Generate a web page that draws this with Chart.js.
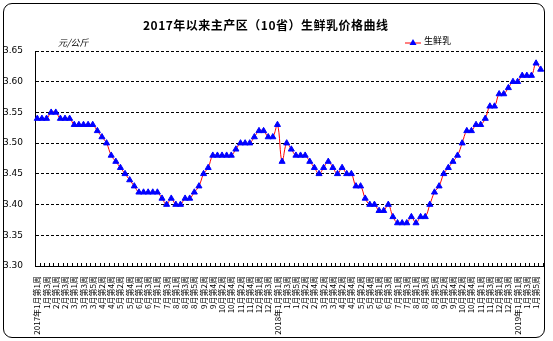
<!DOCTYPE html>
<html>
<head>
<meta charset="utf-8">
<script src="https://cdn.jsdelivr.net/npm/chart.js@4.4.0/dist/chart.umd.min.js"></script>
<style>
html, body { margin: 0; padding: 0; background: #fff; }
#wrap { position: relative; width: 553px; height: 341px; overflow: hidden; font-family: "Noto Sans CJK SC", "Noto Sans", sans-serif; }
#frame { position: absolute; left: 3px; top: 3px; width: 540px; height: 333px; border: 1px solid #000; border-radius: 9px; }
#c { position: absolute; left: 0; top: 0; }
#title { position: absolute; left: 143px; top: 17px; font-size: 12px; font-weight: bold; letter-spacing: 0.5px; line-height: 16px; white-space: nowrap; color: #000; }
#unit { position: absolute; left: 58px; top: 37px; font-size: 9px; font-style: italic; line-height: 12px; color: #000; }
#legend { position: absolute; left: 405px; top: 35px; font-size: 9px; line-height: 12px; white-space: nowrap; color: #000; }
#legend svg { vertical-align: middle; margin-right: 3px; }
</style>
</head>
<body>
<div id="wrap">
  <div id="frame"></div>
  <canvas id="c" width="553" height="341"></canvas>
  <div id="title">2017年以来主产区（10省）生鲜乳价格曲线</div>
  <div id="unit">元/公斤</div>
  <div id="legend"><svg width="16" height="8"><line x1="0" y1="5" x2="16" y2="5" stroke="#ff0000" stroke-width="1"/><polygon points="8,1 11.5,7 4.5,7" fill="#0000ff"/></svg>生鲜乳</div>
</div>
<script>
// semaines par mois (2017, 2018, puis janvier + 1re semaine de février 2019)
const years = ['2017', '2018', '2019'];
const weeks2017 = [4, 4, 5, 4, 5, 4, 4, 5, 4, 4, 5, 4];
const weeks2018 = [5, 4, 4, 4, 5, 4, 4, 5, 4, 5, 4, 4];
const weeks2019 = [5, 1];

// prix du lait cru (元/公斤), une valeur par semaine
const prices = [
    3.54, 3.54, 3.54, 3.55, 3.55, 3.54, 3.54, 3.54, 3.53, 3.53,
    3.53, 3.53, 3.53, 3.52, 3.51, 3.50, 3.48, 3.47, 3.46, 3.45,
    3.44, 3.43, 3.42, 3.42, 3.42, 3.42, 3.42, 3.41, 3.40, 3.41,
    3.40, 3.40, 3.41, 3.41, 3.42, 3.43, 3.45, 3.46, 3.48, 3.48,
    3.48, 3.48, 3.48, 3.49, 3.50, 3.50, 3.50, 3.51, 3.52, 3.52,
    3.51, 3.51, 3.53, 3.47, 3.50, 3.49, 3.48, 3.48, 3.48, 3.47,
    3.46, 3.45, 3.46, 3.47, 3.46, 3.45, 3.46, 3.45, 3.45, 3.43,
    3.43, 3.41, 3.40, 3.40, 3.39, 3.39, 3.40, 3.38, 3.37, 3.37,
    3.37, 3.38, 3.37, 3.38, 3.38, 3.40, 3.42, 3.43, 3.45, 3.46,
    3.47, 3.48, 3.50, 3.52, 3.52, 3.53, 3.53, 3.54, 3.56, 3.56,
    3.58, 3.58, 3.59, 3.60, 3.60, 3.61, 3.61, 3.61, 3.63, 3.62
];

const yMin = 3.30;
const yMax = 3.65;
const yStep = 0.05;

//construction des libellés "X月第N周"
let labels = [];
const allWeeks = [weeks2017, weeks2018, weeks2019];
for (let y = 0; y < allWeeks.length; y++) {
    for (let m = 0; m < allWeeks[y].length; m++) {
        for (let w = 1; w <= allWeeks[y][m]; w++) {
            let txt = (m + 1) + '月第' + w + '周';
            if (m === 0 && w === 1) {
                txt = years[y] + '年' + txt;
            }
            labels.push(txt);
        }
    }
}

//petits traits de graduation vers l'intérieur
const tickMarks = {
    id: 'tickMarks',
    beforeDatasetsDraw(chart) {
        const xs = chart.scales.x;
        const ctx = chart.ctx;
        const n = xs.getLabels().length;
        const step = xs.width / n;
        ctx.save();
        ctx.strokeStyle = '#000';
        ctx.lineWidth = 1;
        ctx.beginPath();
        for (let i = 0; i <= n; i++) {
            const px = Math.round(xs.left + i * step) + 0.5;
            ctx.moveTo(px, xs.top);
            ctx.lineTo(px, xs.top - 3);
        }
        ctx.stroke();
        ctx.restore();
    }
};

const context = document.getElementById('c').getContext('2d');
let chart = new Chart(context, {
    type: 'line',
    data: {
        labels: labels,
        datasets: [{
            label: '生鲜乳',
            data: prices,
            borderColor: '#ff0000',
            borderWidth: 1,
            tension: 0.4,
            fill: false,
            pointStyle: 'triangle',
            pointRadius: 3.5,
            pointBorderWidth: 1,
            pointBackgroundColor: '#0000ff',
            pointBorderColor: '#0000ff'
        }]
    },
    options: {
        responsive: false,
        animation: false,
        devicePixelRatio: 1,
        layout: { padding: { left: 3, right: 10, top: 51, bottom: 0 } },
        plugins: {
            legend: { display: false },
            title: { display: false },
            tooltip: { enabled: false }
        },
        scales: {
            x: {
                type: 'category',
                offset: true,
                grid: { display: false },
                border: { display: true, color: '#000', width: 1 },
                ticks: {
                    autoSkip: false,
                    maxRotation: 90,
                    minRotation: 90,
                    padding: 2,
                    color: '#000',
                    font: { family: '"Noto Sans CJK SC", sans-serif', size: 8 },
                    callback: function(value, index) {
                        return index % 2 === 0 ? labels[index] : '';
                    }
                },
                afterFit: function(scale) { scale.height = 75; }
            },
            y: {
                min: yMin,
                max: yMax,
                grid: {
                    color: '#000',
                    lineWidth: 1,
                    drawTicks: false
                },
                border: { display: true, color: '#000', width: 1, dash: [3, 2] },
                ticks: {
                    stepSize: yStep,
                    crossAlign: 'far',
                    padding: 4,
                    color: '#000',
                    font: { family: '"DejaVu Sans", sans-serif', size: 9 },
                    callback: function(value) { return value.toFixed(2); }
                },
                afterFit: function(scale) { scale.width = 32; }
            }
        }
    },
    plugins: [tickMarks]
});
</script>
</body>
</html>
